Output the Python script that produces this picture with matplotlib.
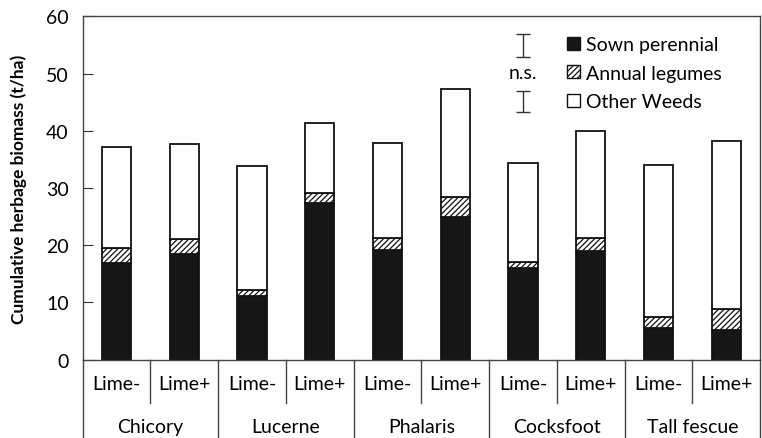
import matplotlib as mpl
import matplotlib.pyplot as plt
from matplotlib.patches import Patch
from matplotlib.transforms import blended_transform_factory

species = ["Chicory", "Lucerne", "Phalaris", "Cocksfoot", "Tall fescue"]
lime = ["Lime-", "Lime+"]

sown = [16.9, 18.4, 11.1, 27.3, 19.2, 24.9, 16.0, 19.0, 5.5, 5.2]
legume_top = [19.5, 21.0, 12.1, 29.1, 21.2, 28.5, 17.1, 21.3, 7.4, 8.9]
total = [37.2, 37.7, 33.9, 41.4, 37.9, 47.3, 34.3, 40.0, 34.0, 38.2]
legumes = [l - s for l, s in zip(legume_top, sown)]
weeds = [t - l for t, l in zip(total, legume_top)]

lsd_centers = [54.9, 45.1]
lsd_half = [2.0, 1.8]

mpl.rcParams.update({
    "font.family": ["Lato", "DejaVu Sans"],
    "hatch.linewidth": 0.9,
    "hatch.color": "#111111",
})

fig = plt.figure(figsize=(7.62, 4.39), dpi=100)
ax = fig.add_axes([0.1085, 0.1784, 0.889, 0.7822])

x = list(range(len(sown)))
w = 0.43
ax.bar(x, sown, w, color="#161616", edgecolor="#111111", linewidth=1.3,
       label="Sown perennial")
ax.bar(x, legumes, w, bottom=sown, color="white", edgecolor="#111111",
       hatch="//////", linewidth=1.3, label="Annual legumes")
ax.bar(x, weeds, w, bottom=legume_top, color="white", edgecolor="#111111",
       linewidth=1.3, label="Other Weeds")

ax.set_xlim(-0.5, len(sown) - 0.5)
ax.set_ylim(0, 60)
ax.set_yticks(range(0, 61, 10))
ax.set_xticks([])
ax.tick_params(axis="y", direction="in", length=7, labelsize=14, pad=10,
               color="#333333")
for s in ax.spines.values():
    s.set_color("#444444")
    s.set_linewidth(1.0)
ax.set_ylabel("Cumulative herbage biomass (t/ha)", fontsize=12.5,
              fontweight="bold", labelpad=14)

# two level category labels below the axis
trans = blended_transform_factory(ax.transData, ax.transAxes)
for i in range(len(sown)):
    ax.text(i, -0.068, lime[i % 2], transform=trans, ha="center", va="center",
            fontsize=14)
for k, name in enumerate(species):
    ax.text(2 * k + 0.5, -0.195, name, transform=trans, ha="center",
            va="center", fontsize=14)
for b in range(len(sown) + 1):
    xb = b - 0.5
    y_end = -0.24 if b % 2 == 0 else -0.125
    ax.plot([xb, xb], [0, y_end], transform=trans, color="#444444", lw=1.0,
            clip_on=False)

# LSD bars and n.s.
for c, h in zip(lsd_centers, lsd_half):
    ax.errorbar(6.0, c, yerr=h, color="#333333", capsize=5, lw=1.0,
                capthick=1.0)
ax.text(6.0, 50.2, "n.s.", ha="center", va="center", fontsize=14)

handles = [
    Patch(facecolor="#161616", edgecolor="#111111", label="Sown perennial"),
    Patch(facecolor="white", edgecolor="#111111", hatch="//////",
          label="Annual legumes"),
    Patch(facecolor="white", edgecolor="#111111", label="Other Weeds"),
]
ax.legend(handles=handles, loc="upper left", bbox_to_anchor=(0.704, 0.965),
          frameon=False, fontsize=14, handlelength=0.65, handleheight=0.65,
          handletextpad=0.3, labelspacing=0.6, borderaxespad=0)

fig.savefig("out.png", dpi=100)
